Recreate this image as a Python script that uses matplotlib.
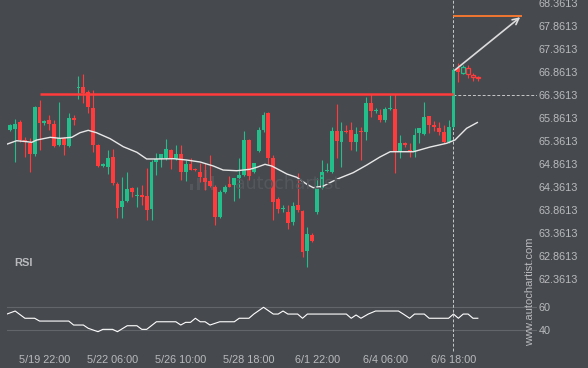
import numpy as np
import matplotlib.pyplot as plt
from matplotlib.patches import Rectangle

BG = '#46494e'
UP = '#22bf8b'
DOWN = '#ff3b3b'
TXT = '#b8babd'

# 4h candles, index -1 is the half-cut candle at the left edge
opens = [65.737,
         65.607, 65.622, 65.787, 65.389, 65.317, 65.085, 66.114, 65.766, 65.824, 65.737,
         65.281, 65.426, 65.259, 65.861, 66.527, 66.535, 66.440, 66.085, 65.281, 64.824,
         64.809, 65.014, 64.433, 63.927, 64.070, 64.353, 64.166, 64.194, 64.172, 63.883,
         64.918, 64.970, 65.000, 65.179, 64.970, 65.085, 64.700, 64.868, 64.759, 64.700,
         64.557, 64.505, 64.374, 63.709, 64.266, 64.426, 64.411, 64.557, 64.629, 65.389,
         64.700, 65.157, 65.607, 65.983, 64.992, 64.100, 63.898, 63.831, 63.600, 63.987,
         63.846, 62.981, 63.324, 63.824, 64.339, 64.711, 64.694, 65.585, 65.353, 65.585,
         65.607, 65.353, 65.592, 65.557, 66.187, 66.020, 65.933, 65.824, 66.053, 66.057,
         65.135, 65.318, 65.172, 65.135, 65.548, 65.520, 65.911, 65.715, 65.644, 65.570,
         65.353, 65.679, 66.948, 66.853, 66.948, 66.803, 66.766]
highs = [65.780,
         65.737, 65.839, 65.824, 65.461, 65.426, 66.129, 66.259, 65.824, 65.933, 65.824,
         66.222, 65.461, 65.970, 65.933, 66.781, 66.824, 66.476, 66.476, 65.303, 64.890,
         65.172, 65.188, 64.483, 64.592, 64.700, 64.374, 64.361, 64.411, 64.774, 64.955,
         65.100, 65.085, 65.405, 65.194, 65.281, 65.281, 64.955, 64.992, 64.781, 64.896,
         64.883, 65.063, 64.411, 64.302, 64.411, 64.607, 64.563, 64.992, 65.592, 65.405,
         64.896, 65.679, 66.005, 65.998, 65.063, 64.157, 63.977, 63.977, 64.048, 64.666,
         63.868, 63.505, 63.374, 64.557, 64.955, 64.883, 65.679, 66.166, 65.787, 65.715,
         65.787, 65.679, 65.679, 66.318, 66.389, 66.079, 66.057, 66.114, 66.368, 66.389,
         65.498, 65.353, 65.318, 65.644, 65.644, 66.222, 65.911, 65.809, 65.787, 65.715,
         65.824, 66.955, 67.057, 67.020, 67.020, 66.853, 66.781]
lows = [65.563,
        65.585, 64.918, 65.346, 65.026, 64.687, 65.041, 65.172, 65.715, 65.607, 65.231,
        65.259, 65.063, 65.244, 65.715, 66.274, 66.187, 65.970, 65.135, 64.803, 64.803,
        64.650, 64.411, 63.694, 63.687, 64.048, 64.157, 63.940, 63.977, 63.650, 63.650,
        64.629, 64.809, 64.955, 64.766, 64.955, 64.520, 64.505, 64.727, 64.716, 64.483,
        64.302, 64.374, 63.542, 63.687, 64.237, 64.361, 64.070, 64.122, 64.607, 64.520,
        64.665, 65.135, 65.570, 64.868, 63.650, 63.803, 63.824, 63.448, 63.542, 63.831,
        62.853, 62.635, 63.172, 63.774, 64.335, 64.687, 64.665, 64.992, 64.809, 65.535,
        65.172, 65.150, 64.955, 65.389, 65.896, 65.970, 65.787, 65.787, 66.042, 64.666,
        64.992, 65.244, 65.026, 65.026, 65.318, 65.498, 65.535, 65.592, 65.498, 65.318,
        65.318, 65.650, 66.657, 66.824, 66.731, 66.679, 66.679]
closes = [65.592,
          65.715, 65.737, 65.389, 65.352, 65.085, 66.114, 65.766, 65.809, 65.737, 65.259,
          65.426, 65.281, 65.861, 65.824, 66.542, 66.405, 66.101, 65.281, 64.824, 64.861,
          64.992, 64.448, 63.922, 64.063, 64.324, 64.253, 64.179, 64.157, 63.868, 64.918,
          64.977, 65.079, 65.187, 64.970, 65.090, 64.700, 64.868, 64.737, 64.737, 64.579,
          64.483, 64.396, 63.722, 64.266, 64.361, 64.374, 64.557, 64.629, 65.389, 64.607,
          64.883, 65.607, 65.933, 64.992, 64.048, 63.890, 63.905, 63.596, 63.955, 63.868,
          62.961, 63.340, 63.200, 64.339, 64.687, 64.720, 65.585, 65.368, 65.585, 65.557,
          65.353, 65.520, 65.557, 66.187, 66.026, 66.031, 65.824, 66.057, 66.079, 65.135,
          65.318, 65.281, 65.135, 65.498, 65.644, 65.896, 65.715, 65.666, 65.570, 65.353,
          65.679, 66.911, 66.874, 66.983, 66.824, 66.753, 66.744]
first_idx = -1
hollow_from = 93   # candles after the breakout are drawn as outlines

# moving average (read at points along the line)
ma_idx = [-0.6, 1.3, 3.4, 4.4, 5.4, 8.2, 10.2, 12.6, 14.3, 16, 17.7, 20.5, 23.2, 26, 28,
          30, 33.5, 36.2, 39, 41.7, 43.7, 46.5, 49.2, 50.6, 52.3, 53.7, 56.8, 58.8, 60.9,
          62.2, 64.3, 67, 70.4, 73.2, 75.9, 78, 82.8, 86.2, 89.6, 91.3, 93.7, 95.9]
ma_val = [65.303, 65.374, 65.353, 65.339, 65.389, 65.448, 65.426, 65.448, 65.548, 65.600,
          65.548, 65.418, 65.244, 65.122, 64.977, 64.977, 64.983, 64.955, 64.911, 64.824,
          64.737, 64.722, 64.753, 64.796, 64.861, 64.824, 64.650, 64.579, 64.427, 64.353,
          64.390, 64.535, 64.679, 64.846, 65.020, 65.135, 65.135, 65.237, 65.318, 65.389,
          65.644, 65.770]

# RSI
rsi_idx = [-0.7, 1, 3, 5, 6, 12, 13, 15, 16, 18, 19, 21, 22, 24, 26, 27, 28, 30, 34, 35,
           36, 37, 38, 39, 40, 41, 43, 46, 47, 49, 50, 52, 54, 55, 56, 57, 59, 60, 61, 69,
           70, 71, 72, 73.5, 75, 79.7, 80.7, 82, 83, 85, 86, 90, 91, 92, 93, 94, 95, 96]
rsi_val = [53.7, 56.3, 50.1, 50.1, 47.7, 47.7, 44.3, 44.3, 41.5, 38.6, 40.6, 40.6, 38.6,
           43.7, 43.7, 40.6, 40.6, 47.1, 47.1, 44.3, 46.6, 46.6, 50.1, 47.1, 47.1, 44.3,
           47.1, 47.1, 50.1, 50.1, 53.7, 59.5, 53.7, 53.7, 56.3, 53.7, 53.7, 50.1, 53.7,
           53.7, 50.1, 52.9, 50.1, 53.7, 56.3, 56.3, 53.7, 50.1, 53.7, 53.7, 50.1, 50.1,
           53.7, 50.1, 53.7, 53.7, 50.1, 50.1]

tick_idx = [7, 21, 35, 49, 63, 77, 91]
tick_labels = ['5/19 22:00', '5/22 06:00', '5/26 10:00', '5/28 18:00',
               '6/1 22:00', '6/4 06:00', '6/6 18:00']
price_ticks = [62.3613 + 0.5 * k for k in range(13)]

resistance = 66.39
resistance_start = 6.1
breakout_idx = 91
breakout_price = 66.3613
target_price = 68.085
target_end = 105.1
arrow_from = (91.3, 66.91)
arrow_to = (104.7, 68.06)

plt.rcParams['font.family'] = ['Liberation Sans', 'DejaVu Sans']

fig = plt.figure(figsize=(5.88, 3.68), dpi=100, facecolor=BG)
ax = fig.add_axes([7 / 588, 1 - 290 / 368, 530 / 588, 290 / 368])
rax = fig.add_axes([7 / 588, 1 - 345 / 368, 530 / 588, 55 / 368])

for a in (ax, rax):
    a.set_facecolor(BG)
    a.patch.set_alpha(0)
    for s in a.spines.values():
        s.set_visible(False)
    a.set_xlim(-0.68, 108.15)
    a.yaxis.tick_right()
    a.tick_params(length=0, colors=TXT, labelsize=7.8, pad=1)

# faint watermark logo + name
WM = '#54575c'
for x0, y0, y1 in [(190, 184, 190), (197, 178, 190), (204, 170, 190), (211, 176, 190)]:
    fig.add_artist(Rectangle((x0 / 588, 1 - y1 / 368), 3 / 588, (y1 - y0) / 368,
                             transform=fig.transFigure, color=WM, lw=0, zorder=0))
fig.text(288 / 588, 1 - 184 / 368, 'autochartist', color=WM, fontsize=12.5,
         ha='center', va='center', family='DejaVu Sans', zorder=0)

o = np.array(opens)
h = np.array(highs)
l = np.array(lows)
c = np.array(closes)
idx = np.arange(first_idx, first_idx + len(o))
up = c >= o
cols = np.where(up, UP, DOWN)
body_lo = np.minimum(o, c)
body_h = np.maximum(np.abs(c - o), 0.02)

solid = idx < hollow_from
ax.vlines(idx, l, h, colors=cols, lw=0.8, zorder=2)
ax.bar(idx[solid], body_h[solid], bottom=body_lo[solid], width=0.8,
       color=cols[solid], lw=0, zorder=3)
ax.bar(idx[~solid], body_h[~solid], bottom=body_lo[~solid], width=0.75,
       facecolor=BG, edgecolor=cols[~solid], lw=0.9, zorder=3)

ax.plot(ma_idx, ma_val, color='#e8e8e8', lw=1.0, zorder=4)

ax.hlines(resistance, resistance_start, breakout_idx, color=DOWN, lw=1.8, zorder=5)
ax.axvline(breakout_idx, color='#c8c8c8', lw=0.7, ls=(0, (3, 2)), zorder=1)
ax.hlines(breakout_price, breakout_idx, 108.15, color='#c8c8c8', lw=0.7,
          linestyles=(0, (3, 2)), zorder=1)
ax.hlines(target_price, breakout_idx, target_end, color='#ff7b2e', lw=1.3, zorder=5)
ax.annotate('', xy=arrow_to, xytext=arrow_from,
            arrowprops=dict(arrowstyle='->', color='#dcdcdc', lw=1.2,
                            shrinkA=0, shrinkB=0, mutation_scale=11))

ax.set_ylim(62.129, 68.433)
ax.set_yticks(price_ticks)
ax.set_yticklabels(['%.4f' % p for p in price_ticks])
ax.set_xticks([])

# RSI panel
rax.set_ylim(27.2, 74.3)
rax.axhline(60, color='#62656a', lw=0.8)
rax.axhline(40, color='#62656a', lw=0.8)
rax.plot(rsi_idx, rsi_val, color='white', lw=0.8)
rax.axvline(breakout_idx, ymin=-0.1, ymax=1, color='#c8c8c8', lw=0.7,
            ls=(0, (3, 2)), clip_on=False)
rax.set_yticks([60, 40])
rax.set_yticklabels(['60', '40'])
rax.set_xticks(tick_idx)
rax.set_xticklabels(tick_labels)
rax.tick_params(axis='x', pad=7)

fig.text(14 / 588, 1 - 263 / 368, 'RSI', color=TXT, fontsize=8, fontweight='bold',
         va='center')
fig.text(530 / 588, 1 - 292 / 368, 'www.autochartist.com', color=TXT, fontsize=8,
         rotation=90, ha='center', va='center')

fig.savefig('out.png', dpi=100, facecolor=BG)
